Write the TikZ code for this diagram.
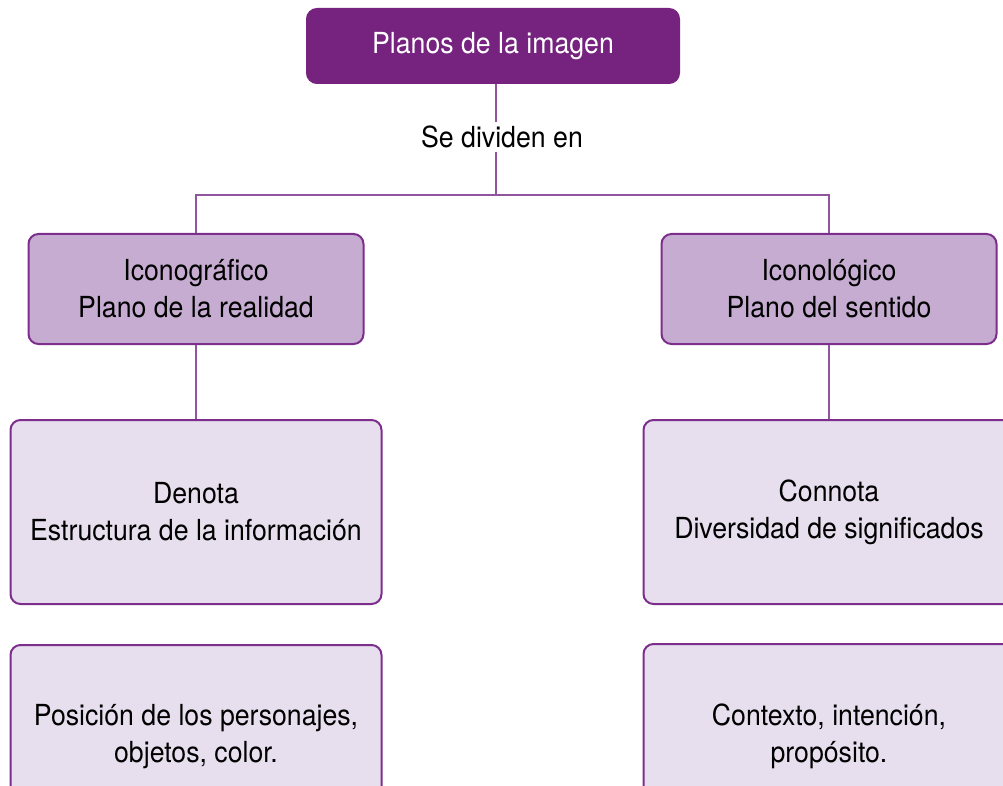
\documentclass[tikz,border=0pt]{standalone}
\usepackage{fontspec}
\setmainfont{TeX Gyre Heros}[FakeStretch=0.92]
\definecolor{topfill}{RGB}{118,35,128}
\definecolor{midfill}{RGB}{197,172,208}
\definecolor{lowfill}{RGB}{231,222,238}
\definecolor{edge}{RGB}{125,45,140}
\definecolor{link}{RGB}{145,85,160}
\tikzset{
  box/.style={draw=edge, line width=2pt, rounded corners=10pt, align=center,
    inner sep=0pt, font=\fontsize{29}{37}\selectfont, text=black},
  topbox/.style={box, fill=topfill, draw=topfill, text=white, minimum width=372pt, minimum height=74pt},
  midbox/.style={box, fill=midfill, minimum width=335pt, minimum height=110pt},
  lowbox/.style={box, fill=lowfill, minimum width=371pt, minimum height=184pt},
  conn/.style={draw=link, line width=2.2pt},
}
\begin{document}
\begin{tikzpicture}[x=1pt,y=-1pt]
\clip (0,0) rectangle (1003,786);
\fill[white] (0,0) rectangle (1003,786);
\node[topbox] (top) at (493,46) {Planos de la imagen};
\node[font=\fontsize{29}{37}\selectfont] (div) at (502,137) {Se dividen en};
\coordinate (hub) at (496,195);
\node[midbox] (ico) at (196,289) {Iconográfico\\Plano de la realidad};
\node[midbox] (icl) at (829,289) {Iconológico\\Plano del sentido};
\node[lowbox] (den) at (196,512) {Denota\\Estructura de la información};
\node[lowbox] (con) at (829,512) {Connota\\Diversidad de significados};
\node[lowbox] (pos) at (196,737) {Posición de los personajes,\\objetos, color.};
\node[lowbox] (ctx) at (829,736) {Contexto, intención,\\propósito.};
\draw[conn] (top.south -| hub) -- (div.north -| hub);
\draw[conn] (div.south -| hub) -- (hub);
\draw[conn] (ico.north) |- (hub) -| (icl.north);
\draw[conn] (ico.south) -- (den.north);
\draw[conn] (icl.south) -- (con.north);
\end{tikzpicture}
\end{document}
